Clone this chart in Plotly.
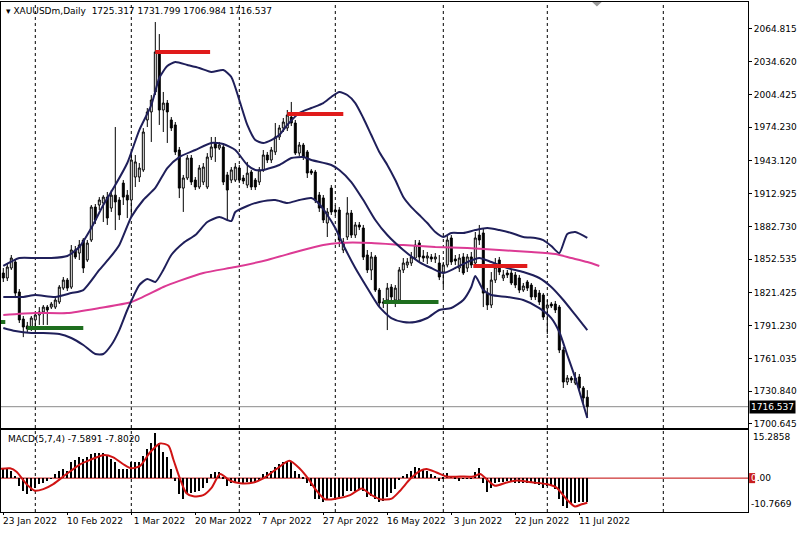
import plotly.graph_objects as go

# ---------------- data ----------------
bar_idx = list(range(147))

opens = [1839.8,1835.2,1844.4,1850.0,1822.3,1797.4,1791.0,1789.1,1796.5,1801.1,
         1803.9,1808.4,1808.4,1808.4,1813.1,1825.9,1833.3,1826.8,1861.0,1858.2,
         1870.2,1851.8,1870.2,1900.6,1902.5,1904.3,1909.8,1899.7,1911.6,1907.1,
         1922.7,1911.6,1907.1,1928.3,1928.3,1934.8,1980.9,1988.3,2006.7,2043.6,
         1990.1,1996.5,1980.9,1976.3,1953.2,1918.1,1927.4,1945.8,1925.5,1919.1,
         1923.7,1919.1,1946.7,1959.7,1955.0,1956.0,1930.2,1925.5,1925.5,1936.6,
         1927.4,1920.9,1932.9,1925.5,1923.7,1934.8,1948.6,1944.0,1951.4,1965.2,
         1973.5,1973.5,1983.6,1978.1,1950.4,1957.8,1951.4,1933.9,1932.9,1911.7,
         1909.0,1885.9,1918.1,1897.9,1897.9,1861.0,1873.0,1895.1,1874.8,1884.1,
         1881.3,1856.4,1842.6,1854.6,1824.1,1813.1,1814.9,1826.8,1814.9,1814.9,
         1842.6,1847.2,1849.0,1853.6,1867.5,1855.5,1853.6,1854.6,1852.7,1849.0,
         1840.7,1847.2,1872.1,1852.7,1844.4,1854.6,1844.4,1854.6,1849.0,1874.8,
         1876.7,1821.3,1810.3,1833.3,1851.8,1835.2,1839.8,1839.8,1838.0,1835.2,
         1824.1,1831.5,1828.7,1824.1,1821.3,1819.5,1807.5,1811.2,1811.2,1808.4,
         1768.8,1739.3,1743.0,1738.4,1743.9,1733.8,1725.317]
highs = [1844.4,1849.0,1856.4,1852.7,1825.0,1800.2,1794.7,1800.2,1802.9,1808.4,
         1810.3,1810.3,1813.1,1817.6,1828.7,1836.1,1835.2,1865.6,1864.7,1870.2,
         1872.0,1870.2,1902.5,1903.4,1909.8,1911.6,1914.5,1916.3,1974.4,1909.8,
         1925.5,1916.3,1951.4,1948.6,1941.2,1973.4,1991.9,2003.9,2071.2,2060.1,
         2006.7,1999.3,1983.6,1979.0,1956.0,1930.2,1948.6,1948.6,1928.3,1939.4,
         1941.2,1950.4,1965.2,1965.2,1960.6,1957.8,1933.0,1937.5,1941.2,1939.4,
         1930.2,1942.2,1934.8,1927.4,1937.5,1953.2,1951.4,1956.0,1978.1,1976.3,
         1982.7,1990.1,1997.5,1980.9,1960.6,1959.7,1953.2,1935.7,1934.8,1914.5,
         1911.7,1899.7,1920.9,1902.5,1900.6,1872.1,1909.8,1897.9,1886.8,1886.8,
         1884.1,1861.0,1859.2,1856.4,1826.0,1816.7,1830.6,1829.6,1828.7,1845.3,
         1853.6,1853.6,1859.2,1870.2,1870.2,1861.0,1859.2,1857.3,1858.2,1856.4,
         1850.0,1874.8,1874.8,1856.4,1857.3,1858.2,1857.3,1859.2,1877.6,1884.1,
         1880.4,1826.0,1840.7,1853.6,1854.6,1842.6,1842.6,1842.6,1840.7,1838.0,
         1830.6,1833.3,1830.6,1826.9,1824.1,1821.3,1814.9,1813.1,1814.0,1810.3,
         1771.6,1745.7,1744.8,1748.5,1746.7,1735.6,1731.799]
lows = [1831.5,1832.4,1842.6,1816.7,1793.7,1780.7,1785.4,1786.3,1790.0,1791.9,
        1791.9,1791.9,1806.6,1806.6,1811.2,1824.1,1823.2,1825.0,1852.7,1851.8,
        1839.8,1850.0,1868.4,1885.0,1897.9,1886.8,1884.1,1896.1,1879.4,1888.7,
        1902.5,1890.5,1890.5,1919.1,1923.7,1933.0,1974.4,1960.6,2003.9,1976.3,
        1969.8,1959.7,1970.7,1948.6,1908.9,1896.1,1925.5,1920.9,1916.3,1917.2,
        1920.9,1917.2,1944.0,1942.2,1953.2,1920.9,1888.7,1922.7,1923.7,1922.7,
        1921.8,1918.1,1916.3,1916.3,1920.9,1933.0,1941.2,1941.2,1948.6,1962.4,
        1969.8,1970.7,1975.3,1948.6,1947.7,1944.0,1927.4,1930.2,1904.3,1896.1,
        1885.9,1873.0,1893.3,1892.4,1863.8,1858.2,1870.2,1872.1,1872.1,1879.4,
        1851.8,1839.8,1833.3,1822.3,1809.4,1807.5,1787.2,1814.9,1808.4,1813.1,
        1839.8,1844.4,1846.3,1851.8,1850.0,1850.0,1848.1,1850.0,1849.0,1833.3,
        1826.8,1845.0,1847.2,1847.2,1840.7,1838.0,1840.7,1844.4,1847.2,1865.6,
        1808.4,1805.7,1807.5,1830.6,1837.9,1832.4,1835.2,1828.7,1825.9,1821.3,
        1822.3,1823.2,1814.9,1814.9,1810.3,1796.5,1783.5,1807.5,1802.9,1766.0,
        1733.8,1736.5,1738.4,1736.5,1731.9,1719.9,1706.984]
closes = [1835.2,1845.3,1853.6,1821.3,1796.5,1790.0,1788.2,1798.3,1801.1,1803.9,
          1808.4,1805.7,1811.2,1814.9,1826.8,1833.3,1825.9,1861.0,1854.5,1865.6,
          1844.4,1867.4,1900.6,1888.7,1907.1,1909.8,1890.5,1911.6,1905.3,1893.3,
          1909.8,1907.1,1944.0,1942.2,1936.6,1969.8,1988.3,1999.3,2043.6,1990.1,
          1996.5,1988.3,1973.5,1951.4,1918.1,1927.4,1945.8,1923.7,1919.1,1936.6,
          1937.5,1946.7,1956.0,1955.0,1957.8,1923.7,1916.3,1934.8,1937.5,1925.5,
          1924.6,1931.9,1919.1,1919.1,1934.8,1948.6,1944.0,1953.2,1965.2,1973.5,
          1979.0,1985.5,1978.1,1950.4,1957.8,1946.7,1932.0,1932.0,1907.1,1899.7,
          1888.7,1896.1,1896.1,1896.1,1870.2,1868.4,1895.1,1874.8,1884.1,1882.2,
          1854.5,1842.6,1854.6,1824.1,1812.1,1812.1,1825.9,1817.7,1825.9,1842.6,
          1849.0,1850.0,1854.6,1865.6,1854.6,1853.6,1855.5,1852.7,1854.6,1836.1,
          1847.2,1870.2,1850.0,1850.9,1853.6,1839.8,1854.6,1847.2,1872.1,1870.2,
          1821.3,1810.3,1833.3,1845.3,1840.7,1838.0,1838.0,1830.6,1828.7,1824.1,
          1827.8,1825.9,1817.7,1817.7,1813.1,1799.2,1810.3,1809.4,1805.7,1768.8,
          1739.3,1743.0,1741.1,1743.0,1733.8,1724.5,1716.537]

# Bollinger bands (read at sample bars)
ub_idx = [0,4,8,12,16,19,22,25,28,31,34,37,39,41,43,46,49,52,55,57,59,61,63,65,67,69,71,74,77,80,82,84,86,88,90,92,94,96,98,100,102,104,106,108,110,112,115,118,121,124,127,130,133,135,137,139,141,143,146]
ub_val = [1846.3,1853.6,1853.6,1853.6,1855.5,1863.8,1881.3,1902.5,1920.9,1941.2,1971.6,1994.7,2019.6,2030.6,2034.3,2031.6,2028.8,2025.1,2026.9,2020.5,1999.3,1976.3,1962.4,1959.7,1962.4,1967.0,1976.3,1987.3,1991.9,1996.5,2002.1,2006.7,2003.9,1996.5,1982.7,1967.0,1951.4,1939.4,1925.5,1909.9,1900.6,1893.3,1885.9,1877.6,1873.0,1876.7,1876.7,1879.4,1881.3,1879.4,1876.7,1873.0,1872.1,1870.2,1864.7,1858.2,1875.8,1877.6,1872.1]
mb_idx = [0,5,8,13,17,20,24,27,29,32,35,38,41,44,48,52,55,58,61,63,65,69,72,75,77,82,84,87,90,93,96,100,104,107,110,113,116,119,122,126,130,134,137,140,143,146]
mb_val = [1817.7,1817.7,1819.5,1817.7,1821.3,1824.1,1842.6,1855.5,1865.6,1891.4,1907.1,1918.2,1936.6,1946.7,1953.2,1959.7,1958.7,1953.2,1939.4,1934.8,1934.8,1939.4,1945.8,1946.7,1944.0,1939.4,1934.8,1923.7,1907.1,1888.7,1874.8,1861.0,1849.9,1844.4,1839.8,1844.4,1849.9,1853.6,1849.9,1844.4,1840.7,1835.2,1826.9,1814.9,1801.1,1787.2]
lb_idx = [0,3,7,10,14,17,20,23,25,27,29,31,34,36,38,40,42,45,48,51,54,57,58,61,64,68,71,74,77,79,81,83,85,88,91,94,97,100,103,106,109,112,115,117,118,120,122,126,130,134,137,139,141,143,146]
lb_val = [1789.1,1786.3,1784.5,1784.5,1783.6,1779.9,1773.4,1765.1,1765.1,1773.4,1787.2,1805.7,1828.7,1834.3,1831.5,1842.6,1856.4,1867.5,1874.8,1886.8,1891.4,1887.7,1896.0,1901.6,1905.3,1907.1,1904.3,1907.1,1908.9,1903.4,1893.3,1881.3,1865.6,1844.4,1826.0,1808.5,1798.3,1794.6,1794.6,1798.3,1805.7,1807.5,1814.9,1826.9,1837.0,1824.1,1819.5,1817.7,1814.9,1807.5,1798.3,1785.4,1764.2,1743.0,1706.1]

# Moving average (pink)
ma_idx = [0,8,16,24,32,40,44,50,58,66,74,80,84,92,100,108,116,124,132,138,142,146,149]
ma_val = [1801.1,1802.9,1802.9,1807.5,1813.1,1826.9,1832.5,1839.8,1845.3,1851.8,1860.1,1865.6,1867.5,1867.5,1865.6,1863.8,1862.8,1861.0,1859.2,1857.3,1853.6,1849.9,1846.3]

# MACD histogram and signal
macd_hist = [2.9,2.9,2.3,0.7,-2.4,-4.0,-5.1,-4.0,-3.0,-1.9,
             -1.4,-0.8,-0.1,1.3,2.3,2.9,2.3,5.2,5.8,6.6,
             6.0,6.6,7.6,7.9,7.9,7.9,6.9,6.2,5.0,2.9,
             2.9,2.9,5.2,5.0,5.0,6.9,9.2,11.3,14.3,11.1,
             8.2,6.6,2.9,-0.8,-5.1,-6.5,-5.1,-4.6,-4.3,-4.0,
             -3.0,-1.4,1.3,2.1,2.1,0.2,-2.4,-1.4,-1.2,-1.2,
             -1.4,-1.2,-1.2,-1.4,-0.5,1.3,1.8,2.3,3.4,4.4,
             5.2,5.5,5.5,2.3,1.3,0.2,-1.4,-2.4,-6.7,-6.7,
             -7.7,-6.7,-6.1,-6.7,-6.1,-5.6,-4.0,-4.0,-4.0,-3.5,
             -4.0,-6.1,-5.6,-6.7,-7.7,-7.2,-6.1,-4.6,-3.5,-0.3,
             0.7,1.3,2.3,3.6,3.1,2.9,2.3,1.3,0.7,-0.8,
             0.2,1.6,0.7,0.2,-0.8,-0.1,-0.1,-0.1,1.8,3.1,
             -1.4,-4.3,-3.0,-1.4,-1.2,-1.2,-0.8,-0.8,-1.4,-1.4,
             -1.6,-1.4,-1.6,-1.9,-2.2,-3.0,-2.4,-2.4,-3.5,-6.7,
             -9.0,-9.6,-8.3,-7.9,-7.7,-7.7,-7.5891]
sig_idx = [-0.8,1.7,3.3,5.8,7.9,10,12.5,15.8,19.2,21.7,25,27.5,30,32,34.2,36.7,39.2,41.3,42.5,44.2,45.8,47.5,50,52.1,54.2,56.7,59.2,62.5,65,68.3,71.5,74.2,76.3,78.3,80.4,83.3,86.7,89.6,91.7,94.2,97.1,99.2,101.7,104.2,105.8,108.3,110.8,114.2,117.5,119.2,120.8,122.9,125.8,128.3,132.5,135.8,138.3,140.8,142.9,144.6,146]
sig_val = [2.9,3.1,2.0,-1.9,-4.0,-3.5,-1.9,1.3,4.4,5.8,7.3,6.6,4.4,3.1,3.9,8.2,11.0,10.3,6.0,-0.3,-4.8,-5.8,-5.4,-3.0,1.3,-0.8,-1.6,-1.4,-0.1,2.9,5.5,2.9,-0.3,-4.0,-6.7,-6.5,-5.4,-3.3,-5.1,-6.7,-6.5,-4.0,-0.3,2.3,2.9,1.8,0.5,0.5,0.5,1.3,-0.3,-2.4,-1.4,-0.8,-1.4,-1.9,-3.0,-6.7,-9.0,-8.3,-7.802]

# Axis tick labels
price_ticks = [2064.815,2034.620,2004.425,1974.230,1943.120,1912.925,1882.730,1852.535,1821.425,1791.230,1761.035,1730.840,1700.645]
date_tick_idx = [0,16,32,48,64,80,96,112,128,144]
date_tick_txt = ["23 Jan 2022","10 Feb 2022"," 1 Mar 2022","20 Mar 2022"," 7 Apr 2022",
                 "27 Apr 2022","16 May 2022"," 3 Jun 2022","22 Jun 2022","11 Jul 2022"]
month_sep_idx = [8,32,59,83,110,136,165]

# Horizontal level markers (start bar, end bar, price)
red_levels = [(38,51.7,2043.6),(71,85,1986.4),(117.5,131,1846.3)]
green_levels = [(6,20,1789.1),(95,108.8,1813.0),(-1,0.5,1794.6)]

last_price = 1716.537
macd_top, macd_bot = 15.2858, -10.7669

FONT = "DejaVu Sans"
FS = 9
NAVY = "#1f1f5a"
PINK = "#dc3a94"

fig = go.Figure()

fig.add_trace(go.Candlestick(
    x=bar_idx, open=opens, high=highs, low=lows, close=closes,
    increasing=dict(line=dict(color="black", width=1), fillcolor="white"),
    decreasing=dict(line=dict(color="black", width=1), fillcolor="black"),
    whiskerwidth=0, showlegend=False, hoverinfo="skip", xaxis="x", yaxis="y"))

for xs, ys, col in [(ma_idx, ma_val, PINK), (ub_idx, ub_val, NAVY),
                    (mb_idx, mb_val, NAVY), (lb_idx, lb_val, NAVY)]:
    fig.add_trace(go.Scatter(x=xs, y=ys, mode="lines",
                             line=dict(color=col, width=2, shape="spline", smoothing=0.6),
                             showlegend=False, hoverinfo="skip", xaxis="x", yaxis="y"))

fig.add_trace(go.Bar(x=bar_idx, y=macd_hist, width=0.5, marker=dict(color="black", line=dict(width=0)),
                     showlegend=False, hoverinfo="skip", xaxis="x2", yaxis="y2"))
fig.add_trace(go.Scatter(x=sig_idx, y=sig_val, mode="lines",
                         line=dict(color="#d01414", width=2, shape="spline", smoothing=0.7),
                         showlegend=False, hoverinfo="skip", xaxis="x2", yaxis="y2"))

shapes = []
for m in month_sep_idx:
    shapes.append(dict(type="line", xref="x", yref="paper", x0=m, x1=m, y0=0, y1=1,
                       line=dict(color="black", width=1, dash="3px,3px"), layer="below"))
for x0, x1, p in red_levels:
    shapes.append(dict(type="line", xref="x", yref="y", x0=x0, x1=x1, y0=p, y1=p,
                       line=dict(color="#e01b1b", width=4)))
for x0, x1, p in green_levels:
    shapes.append(dict(type="line", xref="x", yref="y", x0=x0, x1=x1, y0=p, y1=p,
                       line=dict(color="#1e6e1e", width=4)))
shapes.append(dict(type="line", xref="paper", yref="y", x0=0, x1=1, y0=last_price, y1=last_price,
                   line=dict(color="#8a8a8a", width=1), layer="below"))
shapes.append(dict(type="line", xref="paper", yref="y2", x0=0, x1=1, y0=0, y1=0,
                   line=dict(color="#c00000", width=1), layer="below"))
shapes.append(dict(type="rect", xref="paper", yref="y2", x0=1.0015, x1=1.0095, y0=-1.6, y1=1.6,
                   fillcolor="#c81e1e", line=dict(width=0)))
shapes.append(dict(type="path", xref="x", yref="paper",
                   path="M 147.2 1.0 L 149.6 1.0 L 148.4 0.991 Z",
                   fillcolor="#9a9a9a", line=dict(width=0)))

annotations = [
    dict(text="▾ XAUUSDm,Daily  1725.317 1731.799 1706.984 1716.537", xref="paper", yref="paper",
         x=0, y=1, xanchor="left", yanchor="top", xshift=3, yshift=-2, showarrow=False,
         font=dict(family=FONT, size=FS, color="black")),
    dict(text="MACD(5,7,4) -7.5891 -7.8020", xref="paper", yref="y2 domain",
         x=0, y=1, xanchor="left", yanchor="top", xshift=5, yshift=-2, showarrow=False,
         font=dict(family=FONT, size=FS, color="black")),
    dict(text="15.2858", xref="paper", yref="y2 domain", x=1, y=1, xanchor="left", yanchor="top",
         xshift=3, yshift=0, showarrow=False, font=dict(family=FONT, size=FS, color="black")),
    dict(text="<span style='color:white'>0</span>.00", xref="paper", yref="y2", x=1, y=0,
         xanchor="left", yanchor="middle", xshift=1, showarrow=False,
         font=dict(family=FONT, size=FS, color="black")),
    dict(text="-10.7669", xref="paper", yref="y2 domain", x=1, y=0, xanchor="left", yanchor="bottom",
         xshift=1, yshift=1, showarrow=False, font=dict(family=FONT, size=FS, color="black")),
    dict(text="1716.537", xref="paper", yref="y", x=1, y=last_price, xanchor="left", yanchor="middle",
         xshift=1, showarrow=False, bgcolor="black", borderpad=1,
         font=dict(family=FONT, size=FS, color="white")),
]
for ti, tt in zip(date_tick_idx, date_tick_txt):
    annotations.append(dict(text=tt.replace(" ", "&nbsp;", 1) if tt.startswith(" ") else tt,
                            xref="x2", yref="paper", x=ti, y=0, xanchor="left", yanchor="top",
                            xshift=-2, yshift=-2, showarrow=False,
                            font=dict(family=FONT, size=FS, color="black")))

xr = [-0.575, 186.175]
fig.update_layout(
    width=799, height=534,
    margin=dict(l=1, r=51, t=2, b=22, autoexpand=False),
    paper_bgcolor="white", plot_bgcolor="white",
    showlegend=False, bargap=0,
    shapes=shapes, annotations=annotations,
    font=dict(family=FONT, size=FS, color="black"),
    xaxis=dict(domain=[0, 1], range=xr, anchor="y", showticklabels=False, showgrid=False,
               zeroline=False, showline=True, mirror=True, linecolor="black", linewidth=1,
               rangeslider=dict(visible=False), ticks="", automargin=False),
    xaxis2=dict(domain=[0, 1], range=xr, anchor="y2", matches="x", showgrid=False, zeroline=False,
                showline=True, mirror=True, linecolor="black", linewidth=1,
                tickmode="array", tickvals=date_tick_idx, showticklabels=False,
                ticks="outside", ticklen=2, tickcolor="black", automargin=False),
    yaxis=dict(domain=[0.1647, 1], range=[1696.9, 2089.66], side="right", anchor="x",
               showgrid=False, zeroline=False, showline=True, mirror=True, linecolor="black",
               linewidth=1, tickmode="array", tickvals=price_ticks, automargin=False,
               ticktext=[f"{v:.3f}" for v in price_ticks], ticks="outside", ticklen=3,
               tickcolor="black", tickfont=dict(family=FONT, size=FS, color="black")),
    yaxis2=dict(domain=[0, 0.1608], range=[macd_bot, macd_top], side="right", anchor="x2",
                showgrid=False, zeroline=False, showline=True, mirror=True, linecolor="black",
                linewidth=1, showticklabels=False, ticks="", automargin=False),
)

fig.write_html("out.html", config={"displayModeBar": False},
               post_script="document.body.style.margin='0px';document.body.style.padding='0px';")
